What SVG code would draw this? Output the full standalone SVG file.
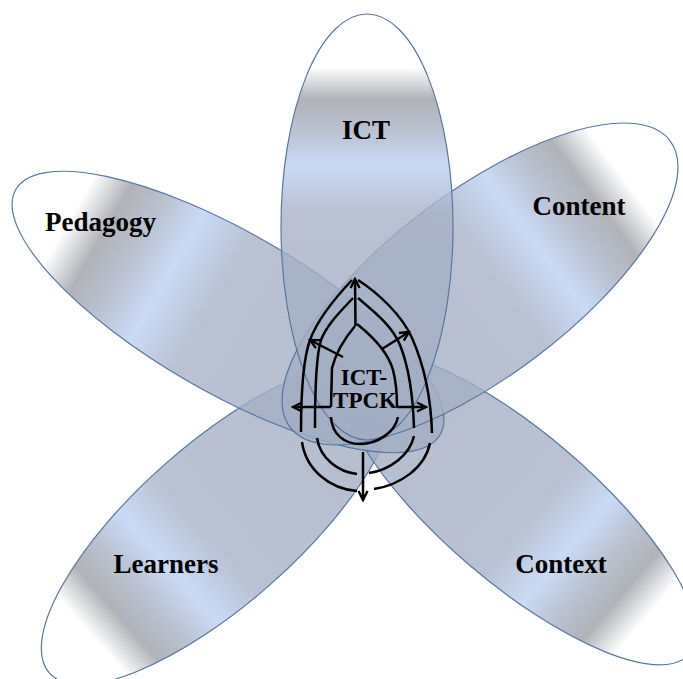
<svg xmlns="http://www.w3.org/2000/svg" width="683" height="679" viewBox="0 0 683 679">
<defs>
<linearGradient id="petal" x1="0" y1="0" x2="1" y2="0">
<stop offset="0" stop-color="#ffffff"/>
<stop offset="0.125" stop-color="#ffffff"/>
<stop offset="0.2" stop-color="#9c9fa6"/>
<stop offset="0.27" stop-color="#a8b1c3"/>
<stop offset="0.355" stop-color="#bdd0f3"/>
<stop offset="0.47" stop-color="#a7b1c6"/>
<stop offset="1" stop-color="#a2adc3"/>
</linearGradient>
<marker id="ah" viewBox="0 0 12 12" refX="10" refY="6" markerWidth="12" markerHeight="12" markerUnits="userSpaceOnUse" orient="auto">
<path d="M1,1.5 L10,6 L1,10.5" fill="none" stroke="#000" stroke-width="2.4"/>
</marker>
</defs>
<style>
.petal{fill:url(#petal);fill-opacity:0.8;stroke:#58779f;stroke-width:1.2}
.lbl{font-family:"Liberation Serif","Times New Roman",serif;font-weight:bold;font-size:27px;fill:#000;text-anchor:middle}
.ctr{font-family:"Liberation Serif","Times New Roman",serif;font-weight:bold;font-size:23px;fill:#000;text-anchor:middle}
.ln{fill:none;stroke:#000;stroke-width:2.5}
.arr{fill:none;stroke:#000;stroke-width:2.5;marker-end:url(#ah)}
</style>
<rect width="683" height="679" fill="#ffffff"/>
<g id="learners">
<ellipse class="petal" cx="0" cy="0" rx="225" ry="80" transform="translate(218,524) rotate(-41.5)"/>
</g>
<g id="context">
<ellipse class="petal" cx="0" cy="0" rx="225" ry="75" transform="translate(518,508) rotate(-139.5)"/>
</g>
<g id="pedagogy">
<ellipse class="petal" cx="0" cy="0" rx="245" ry="80" transform="translate(228,312) rotate(30)"/>
</g>
<g id="content">
<ellipse class="petal" cx="0" cy="0" rx="238" ry="92" transform="translate(480,284) rotate(143)"/>
</g>
<g id="ict">
<ellipse class="petal" cx="0" cy="0" rx="213" ry="86" transform="translate(367,227) rotate(90)"/>
</g>
<g id="labels">
<text class="lbl" x="366" y="139">ICT</text>
<text class="lbl" x="100.5" y="231">Pedagogy</text>
<text class="lbl" x="579" y="215">Content</text>
<text class="lbl" x="166" y="573">Learners</text>
<text class="lbl" x="561" y="573">Context</text>
</g>
<g id="connectors">
<path class="ln" d="M352 280 C335 298 318 318 310 340 C302 362 301 400 301 432"/>
<path class="ln" d="M358 280 C378 293 402 315 412 338 C424 365 431 400 432 433"/>
<path class="ln" d="M353 298 C342 310 327 324 321 340 C316 356 315 390 315 428"/>
<path class="ln" d="M358 298 C372 310 392 325 400 345 C408 365 413 395 414 428"/>
<path class="ln" d="M355 326 C345 338 336 352 332 368 L331 407"/>
<path class="ln" d="M357 324 C372 336 388 352 393 370 C397 385 397 398 397 407"/>
<path class="arr" d="M331 407 L293 407"/>
<path class="arr" d="M397 407 L426 407"/>
<path class="arr" d="M355.5 326 L355 279"/>
<path class="arr" d="M343 357 L310 340"/>
<path class="arr" d="M382 349 L409 332"/>
<path class="ln" d="M331 417 C332 434 344 444 360 444 C378 444 395 432 398 417"/>
<path class="ln" d="M317 438 C320 458 338 472 357 474 M369 473 C390 470 410 455 414 436"/>
<path class="ln" d="M302 442 C306 470 330 489 357 491 M374 489 C400 485 425 468 430 443"/>
<path class="arr" d="M363 452 L363 500"/>
</g>
<g id="ict-tpck">
<text class="ctr" x="364" y="385">ICT-</text>
<text class="ctr" x="365" y="408">TPCK</text>
</g>
</svg>
